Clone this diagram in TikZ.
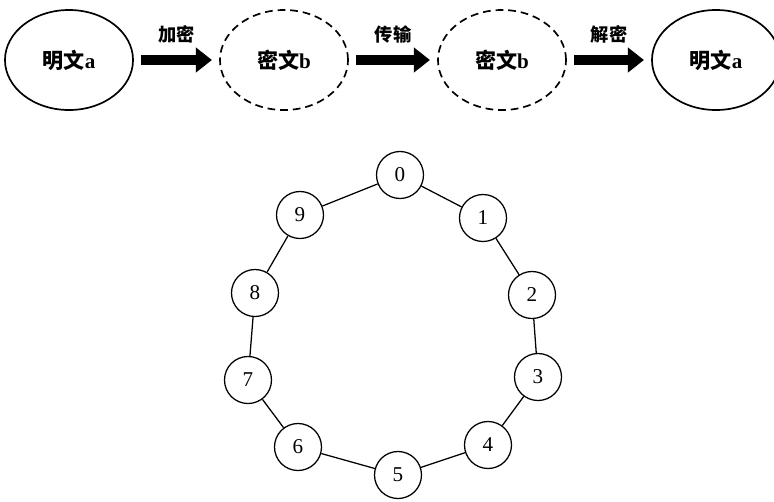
\documentclass[tikz,border=0pt]{standalone}
\usepackage{fontspec}
\setmainfont{Liberation Serif}
\newfontfamily\cjk{Noto Sans CJK SC}
\usetikzlibrary{shapes.geometric}
\usetikzlibrary{arrows.meta}
\tikzset{x=0.025cm, y=-0.025cm, % one unit = one pixel of the sketch
plaintext/.style=
    { % Sets the properties for the plain text ellipses
        ellipse,
        draw,
        line width=1.2pt,
        minimum width=3.2cm,
        minimum height=2.5cm,
        font=\fontsize{15}{17}\selectfont\bfseries
    },
ciphertext/.style={plaintext, dash pattern=on 5.5pt off 3.5pt}, % dashed ellipses
flow/.style={ % thick black arrows between the ellipses
        draw,
        line width=0.26cm,
        -{Triangle[length=0.4cm,width=0.6cm]},
        shorten >=0.18cm,
        shorten <=0.18cm
    },
flowlabel/.style={above=5pt, font=\fontsize{13}{15}\selectfont\cjk\bfseries},
ringnode/.style={circle, draw, line width=0.9pt, minimum size=1.175cm,
        inner sep=0pt, font=\fontsize{15}{17}\selectfont},
ringline/.style={line width=0.9pt}
}

\begin{document}
\begin{tikzpicture}
\useasboundingbox (0,0) rectangle (774,501);

\node [plaintext]  (p1) at (69,60)  {{\cjk 明文}a};
\node [ciphertext] (c1) at (284,60) {{\cjk 密文}b};
\node [ciphertext] (c2) at (502,60) {{\cjk 密文}b};
\node [plaintext]  (p2) at (716,60) {{\cjk 明文}a};

\draw[flow] (p1) -- node[flowlabel]{加密} (c1);
\draw[flow] (c1) -- node[flowlabel]{传输} (c2);
\draw[flow] (c2) -- node[flowlabel]{解密} (p2);

% the ring
\node [ringnode] (n0) at (400,175) {0};
\node [ringnode] (n1) at (483,218) {1};
\node [ringnode] (n2) at (532,295) {2};
\node [ringnode] (n3) at (538,377) {3};
\node [ringnode] (n4) at (488,445) {4};
\node [ringnode] (n5) at (398,475) {5};
\node [ringnode] (n6) at (298,447) {6};
\node [ringnode] (n7) at (248,380) {7};
\node [ringnode] (n8) at (255,293) {8};
\node [ringnode] (n9) at (300,215) {9};

\foreach \a/\b in {0/1,1/2,2/3,3/4,4/5,5/6,6/7,7/8,8/9,9/0}
    \draw[ringline] (n\a) -- (n\b);
\end{tikzpicture}
\end{document}
